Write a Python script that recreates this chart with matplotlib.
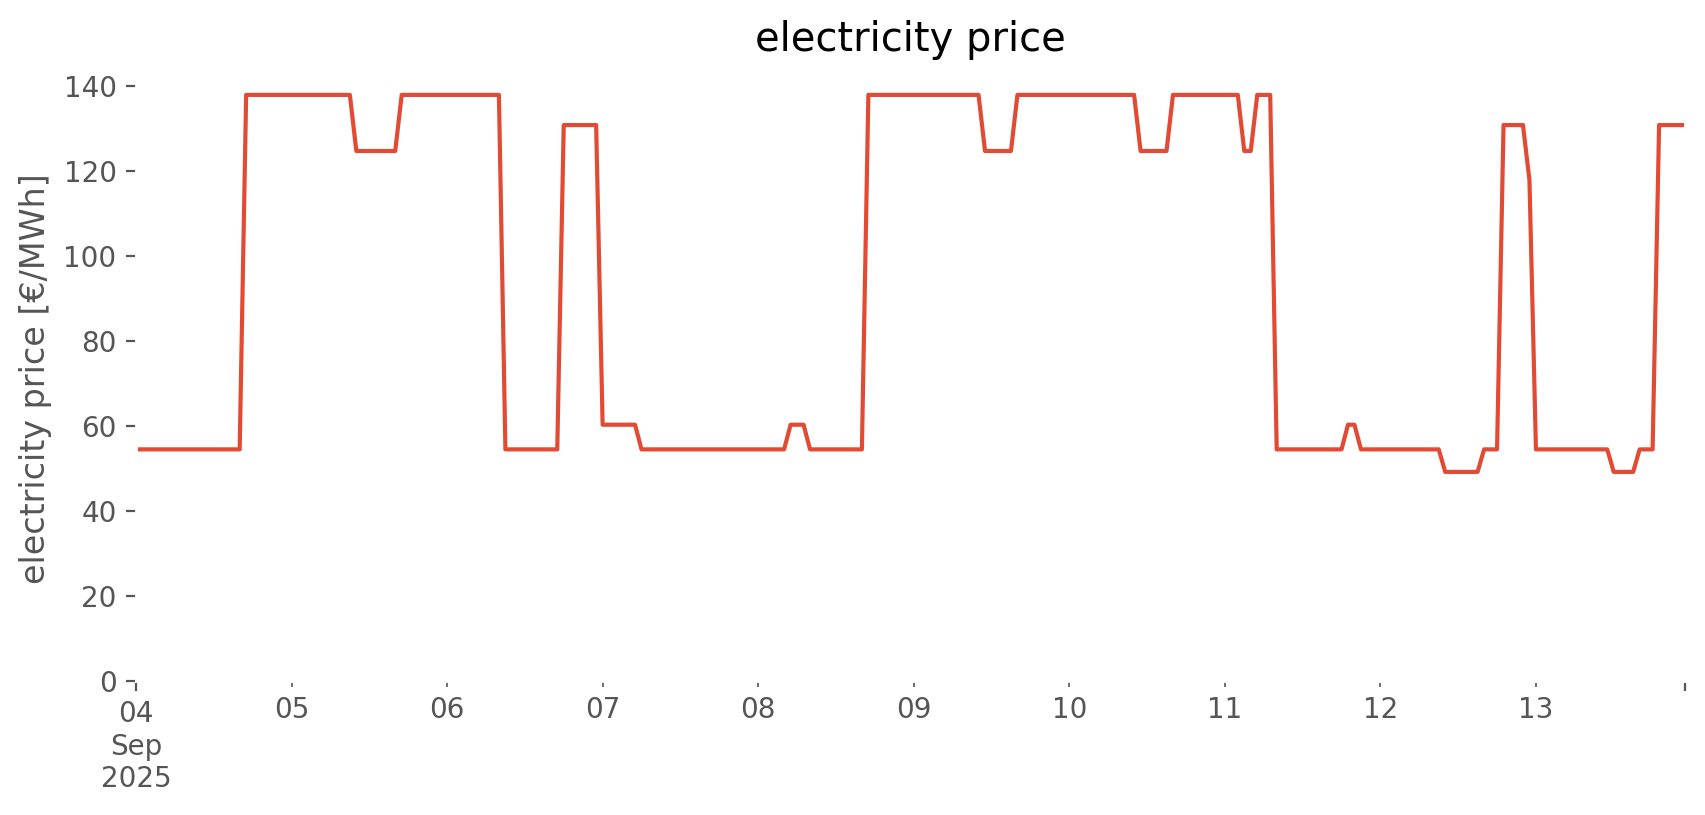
import matplotlib
matplotlib.use("Agg")
import matplotlib.pyplot as plt
import pandas as pd

# hourly prices, one row per day (04 Sep .. 13 Sep 2025)
dia_04 = [54.5]*17 + [137.9]*7
dia_05 = [137.9]*10 + [124.7]*7 + [137.9]*7
dia_06 = [137.9]*9 + [54.5]*9 + [130.8]*6
dia_07 = [60.3]*6 + [54.5]*18
dia_08 = [54.5]*5 + [60.3]*3 + [54.5]*9 + [137.9]*7
dia_09 = [137.9]*11 + [124.7]*5 + [137.9]*8
dia_10 = [137.9]*11 + [124.7]*5 + [137.9]*8
dia_11 = [137.9]*3 + [124.7]*2 + [137.9]*3 + [54.5]*11 + [60.3]*2 + [54.5]*3
dia_12 = [54.5]*10 + [49.2]*6 + [54.5]*3 + [130.8]*4 + [117.8]
dia_13 = [54.5]*12 + [49.2]*4 + [54.5]*3 + [130.8]*5

precios = (dia_04 + dia_05 + dia_06 + dia_07 + dia_08
           + dia_09 + dia_10 + dia_11 + dia_12 + dia_13)
horas = pd.date_range("2025-09-04 00:00", periods=len(precios), freq="h")


def generar_grafico_precio():
    plt.style.use("ggplot")
    serie = pd.Series(precios, index=horas)

    fig = plt.figure(figsize=(1706 / 200, 815 / 200), dpi=200)
    ax = fig.add_axes([0.0797, 0.1644, 0.908, 0.7423])
    ax.set_facecolor("white")  # fondo blanco, la rejilla blanca queda oculta

    serie.plot(ax=ax, color="#E24A33", linewidth=1.5)
    ax.set_ylim(bottom=0)
    ax.set_title("electricity price", pad=9)
    ax.set_ylabel("electricity price [€/MWh]")
    ax.set_xlabel("")

    fig.savefig("out.png", dpi=200, facecolor="white")
    plt.close(fig)


if __name__ == "__main__":
    generar_grafico_precio()
